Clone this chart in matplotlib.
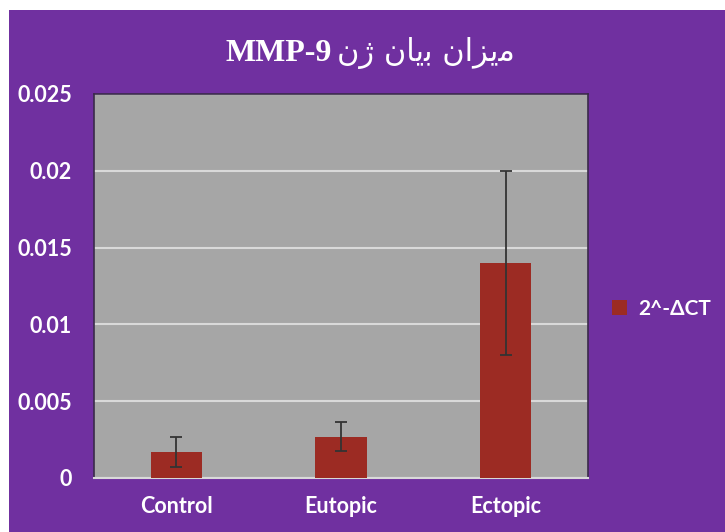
import matplotlib
matplotlib.use("Agg")
import matplotlib.pyplot as plt
from matplotlib.patches import Rectangle, Patch

categories = ["Control", "Eutopic", "Ectopic"]
values = [0.0017, 0.0027, 0.0140]
errors = [0.00097, 0.00097, 0.0060]
yticks = [0, 0.005, 0.01, 0.015, 0.02, 0.025]
ytick_labels = ["0", "0.005", "0.01", "0.015", "0.02", "0.025"]
series_name = "2^-ΔCT"
title_latin = "MMP-9"
# Persian "میزان بیان ژن" written in visual order with contextual (presentation) forms
title_persian = "\uFEE5\uFB8A \uFEE5\uFE8E\uFBFE\uFE91 \uFEE5\uFE8D\uFEB0\uFBFE\uFEE3"

W, H = 725, 532
PURPLE = "#7030A0"
GRAY = "#A6A6A6"
BAR = "#9C2B23"

fig = plt.figure(figsize=(W / 100, H / 100), dpi=100)
fig.patch.set_facecolor("white")
fig.patches.append(Rectangle((9 / W, 0), 1 - 9 / W, 1 - 10 / H,
                             transform=fig.transFigure, facecolor=PURPLE,
                             edgecolor="none", zorder=-10))

ax = fig.add_axes([94 / W, (H - 478) / H, (588 - 94) / W, (478 - 94) / H])
ax.set_facecolor(GRAY)
x = list(range(len(categories)))
ax.bar(x, values, width=0.31, color=BAR, zorder=3,
       yerr=errors, error_kw=dict(ecolor="#333333", elinewidth=1.3,
                                  capsize=4.5, capthick=1.3, zorder=4))
ax.set_xlim(-0.5, 2.5)
ax.set_ylim(0, 0.025)
ax.set_yticks(yticks)
ax.set_yticklabels(ytick_labels)
ax.set_xticks(x)
ax.set_xticklabels(categories)
ax.grid(axis="y", color="#D9D9D9", linewidth=1.5, zorder=0)
ax.set_axisbelow(True)
for s in ["left", "top", "right"]:
    ax.spines[s].set_color("#3a2a4a")
    ax.spines[s].set_linewidth(1.2)
ax.spines["bottom"].set_color("#D9D9D9")
ax.spines["bottom"].set_linewidth(1.5)
ax.tick_params(axis="both", length=0, labelcolor="white")
ax.tick_params(axis="y", pad=16)
ax.tick_params(axis="x", pad=13)
for lab in ax.get_yticklabels() + ax.get_xticklabels():
    lab.set_fontfamily("Lato")
    lab.set_fontweight("bold")
    lab.set_fontsize(15.5)

# legend
leg = fig.legend(handles=[Patch(facecolor=BAR, edgecolor="none", label=series_name)],
                 loc="center left", bbox_to_anchor=(593 / W, 1 - 309 / H),
                 frameon=False, handlelength=0.75, handleheight=0.75,
                 handletextpad=0.5, prop=dict(family="Lato", weight="bold", size=15))
for t in leg.get_texts():
    t.set_color("white")

# title
fig.text(332 / W, 1 - 61 / H, title_latin, ha="right", va="baseline",
         color="white", fontfamily="Liberation Serif", fontweight="bold", fontsize=23)
fig.text(337 / W, 1 - 61 / H, title_persian, ha="left", va="baseline",
         color="white", fontfamily=["DejaVu Sans"], fontsize=22)

fig.savefig("out.png", dpi=100, facecolor=fig.get_facecolor())
